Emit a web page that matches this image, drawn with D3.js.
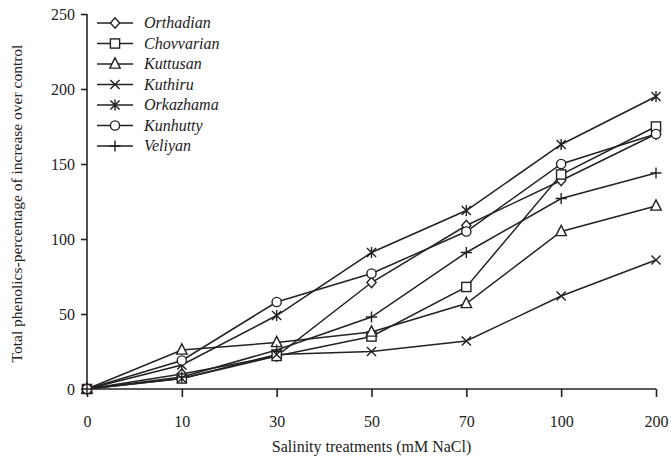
<!DOCTYPE html>
<html>
<head>
<meta charset="utf-8">
<script src="https://cdn.jsdelivr.net/npm/d3@7"></script>
<style>
  body { margin: 0; background: #fff; }
  text { font-family: "Liberation Serif", "DejaVu Serif", serif; fill: #222; }
</style>
</head>
<body>
<svg id="chart" width="671" height="459"></svg>
<script>
// salinity levels (mM NaCl) on the x axis
const treatments = ['0', '10', '30', '50', '70', '100', '200']
const yTicks = [0, 50, 100, 150, 200, 250]

// percentage of increase over control, one list per cultivar
const orthadian = [0, 10, 22, 71, 109, 139, 170]
const chovvarian = [0, 7, 22, 35, 68, 143, 175]
const kuttusan = [0, 26, 31, 38, 57, 105, 122]
const kuthiru = [0, 7, 23, 25, 32, 62, 86]
const orkazhama = [0, 16, 49, 91, 119, 163, 195]
const kunhutty = [0, 19, 58, 77, 105, 150, 170]
const veliyan = [0, 8, 26, 48, 91, 127, 144]

const seriesNames = ['Orthadian', 'Chovvarian', 'Kuttusan', 'Kuthiru', 'Orkazhama', 'Kunhutty', 'Veliyan']
const seriesValues = [orthadian, chovvarian, kuttusan, kuthiru, orkazhama, kunhutty, veliyan]
const markers = ['diamond', 'square', 'triangle', 'cross', 'star', 'circle', 'plus']

const ink = '#222'
const svg = d3.select('#chart')
const margin = { left: 87, right: 15, top: 14, bottom: 70 }
const width = 671 - margin.left - margin.right
const height = 459 - margin.top - margin.bottom

const g = svg.append('g').attr('transform', `translate(${margin.left},${margin.top})`)

const x = d3.scalePoint().domain(treatments).range([0, width])
const y = d3.scaleLinear().domain([0, 250]).range([height, 0])

// axes
const xAxis = g.append('g')
  .attr('transform', `translate(0,${height})`)
  .call(d3.axisBottom(x).tickSize(8).tickPadding(19))
const yAxis = g.append('g')
  .call(d3.axisLeft(y).tickValues(yTicks).tickSize(6).tickPadding(6))

;[xAxis, yAxis].forEach(a => {
  a.select('.domain').attr('stroke', ink).attr('stroke-width', 1.6)
  a.selectAll('.tick line').attr('stroke', ink).attr('stroke-width', 1.6)
  a.selectAll('.tick text').style('font-size', '16px').attr('fill', ink)
})
xAxis.select('.domain').attr('d', `M0,0H${width}`)
yAxis.select('.domain').attr('d', `M0,0V${height}`)

// axis titles
svg.append('text')
  .attr('x', margin.left + width / 2)
  .attr('y', 452)
  .attr('text-anchor', 'middle')
  .style('font-size', '16px')
  .text('Salinity treatments (mM NaCl)')

svg.append('text')
  .attr('transform', `translate(22,${margin.top + height / 2 + 2}) rotate(-90)`)
  .attr('text-anchor', 'middle')
  .style('font-size', '15.5px')
  .text('Total phenolics-percentage of increase over control')

/**
 * draws one marker shape centred on 0,0
 *
 * @param {*} sel selection of a group to draw in
 * @param {string} kind marker name
 */
function drawMarker (sel, kind) {
  const s = 4.6
  if (kind === 'diamond') {
    sel.append('path').attr('d', `M0,${-s - 0.6}L${s},0L0,${s + 0.6}L${-s},0Z`).attr('fill', '#fff')
  } else if (kind === 'square') {
    sel.append('rect').attr('x', -s).attr('y', -s).attr('width', 2 * s).attr('height', 2 * s).attr('fill', '#fff')
  } else if (kind === 'triangle') {
    sel.append('path').attr('d', `M0,${-s - 1.5}L${s + 0.6},${s - 0.5}L${-s - 0.6},${s - 0.5}Z`).attr('fill', '#fff')
  } else if (kind === 'circle') {
    sel.append('circle').attr('r', s).attr('fill', '#fff')
  } else if (kind === 'cross') {
    sel.append('path').attr('d', `M${-s},${-s}L${s},${s}M${-s},${s}L${s},${-s}`).attr('fill', 'none')
  } else if (kind === 'plus') {
    sel.append('path').attr('d', `M${-s - 1},0H${s + 1}M0,${-s - 1}V${s + 1}`).attr('fill', 'none')
  } else if (kind === 'star') {
    sel.append('path').attr('d', `M0,${-s - 1}V${s + 1}M${-s},${-s}L${s},${s}M${-s},${s}L${s},${-s}`).attr('fill', 'none')
  }
}

const line = d3.line()
  .x((d, i) => x(treatments[i]))
  .y(d => y(d))

seriesValues.forEach((vals, k) => {
  g.append('path')
    .datum(vals)
    .attr('d', line)
    .attr('fill', 'none')
    .attr('stroke', ink)
    .attr('stroke-width', 1.5)
})

seriesValues.forEach((vals, k) => {
  g.selectAll('g.m' + k)
    .data(vals)
    .enter()
    .append('g')
    .attr('class', 'm' + k)
    .attr('transform', (d, i) => `translate(${x(treatments[i])},${y(d)})`)
    .attr('stroke', (d, i) => (i === 0 && markers[k] === 'square') ? '#7a1c1c' : ink)
    .attr('stroke-width', 1.4)
    .each(function () { drawMarker(d3.select(this), markers[k]) })
})

// legend
const legend = svg.append('g').attr('transform', 'translate(97,23)')
seriesNames.forEach((name, k) => {
  const row = legend.append('g').attr('transform', `translate(0,${k * 20.5})`)
  row.append('line').attr('x1', 0).attr('x2', 36).attr('stroke', ink).attr('stroke-width', 1.5)
  const m = row.append('g').attr('transform', 'translate(18,0)').attr('stroke', ink).attr('stroke-width', 1.4)
  drawMarker(m, markers[k])
  row.append('text')
    .attr('x', 47)
    .attr('y', 5)
    .style('font-size', '16px')
    .style('font-style', 'italic')
    .text(name)
})
</script>
</body>
</html>
